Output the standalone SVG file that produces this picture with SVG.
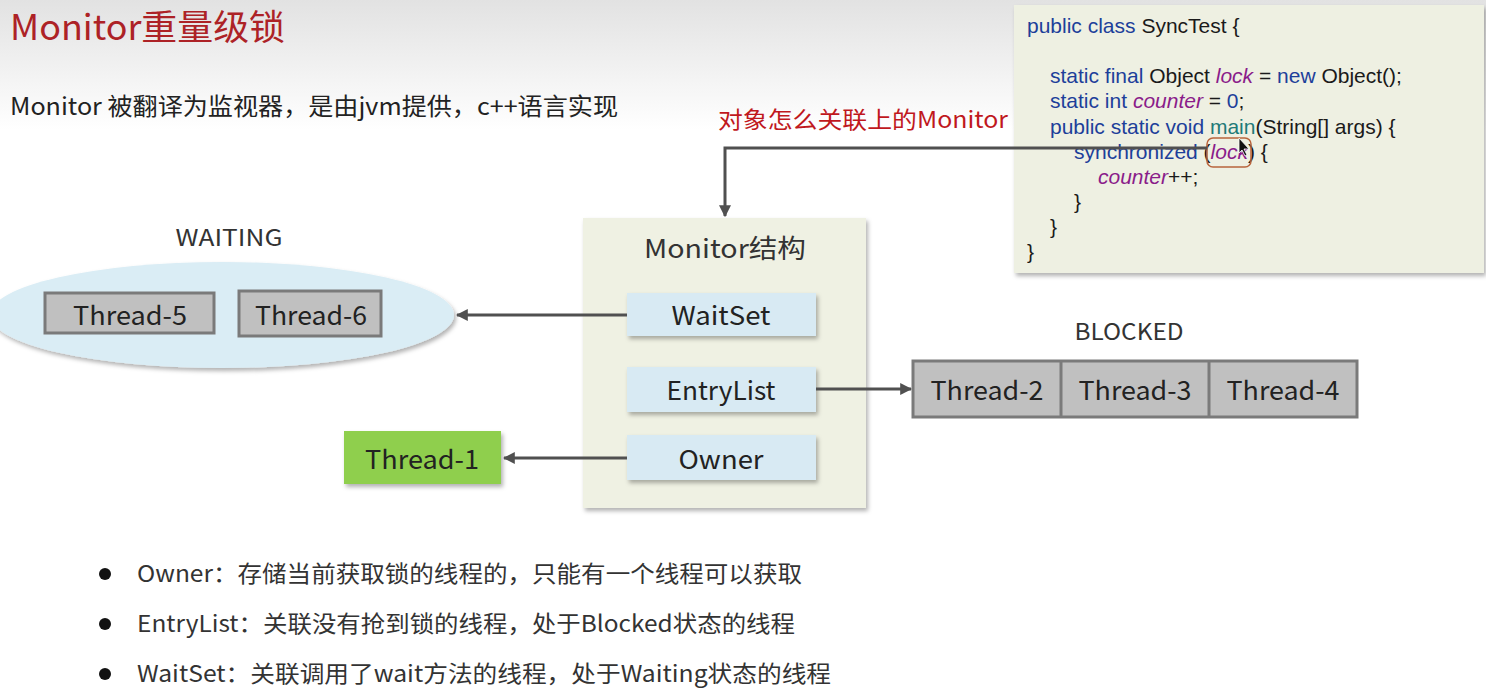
<svg xmlns="http://www.w3.org/2000/svg" width="1486" height="692" viewBox="0 0 1486 692">
<defs>
<linearGradient id="bg" x1="0" y1="0" x2="0" y2="1">
<stop offset="0" stop-color="#e2e2e2"/>
<stop offset="1" stop-color="#ffffff"/>
</linearGradient>
<filter id="sh" x="-10%" y="-10%" width="130%" height="140%">
<feDropShadow dx="2" dy="3" stdDeviation="2" flood-color="#000" flood-opacity="0.3"/>
</filter>
<marker id="ah" viewBox="0 0 10 10" refX="9" refY="5" markerWidth="4" markerHeight="4" orient="auto" markerUnits="strokeWidth">
<path d="M0,0 L10,5 L0,10 z" fill="#505050"/>
</marker>
</defs>
<style>
.t{font-family:"Noto Sans CJK SC","Noto Sans",sans-serif;fill:#222}
.c{font-family:"Liberation Sans",Arial,sans-serif;font-size:21px;fill:#1a1a1a}
.k{fill:#1d3f9a}
.v{fill:#8a1c8a;font-style:italic}
.gray{fill:#c0c0c0;stroke:#7a7a7a;stroke-width:3}
.blue{fill:#d8eaf3}
.ln{stroke:#505050;stroke-width:3;fill:none}
.lbl{font-size:26px;text-anchor:middle}
</style>
<rect x="0" y="0" width="1486" height="130" fill="url(#bg)"/>
<rect x="0" y="130" width="1486" height="562" fill="#ffffff"/>

<text class="t" x="10" y="40" font-size="35" style="fill:#ad2226" textLength="275" lengthAdjust="spacingAndGlyphs">Monitor重量级锁</text>
<text class="t" x="10" y="115" font-size="24" textLength="608" lengthAdjust="spacingAndGlyphs">Monitor 被翻译为监视器，是由jvm提供，c++语言实现</text>

<g id="code">
<rect x="1014" y="5" width="470" height="268" fill="#eef0e2" filter="url(#sh)"/>
<text class="c" x="1027" y="33"><tspan class="k">public class</tspan> SyncTest {</text>
<text class="c" x="1050" y="83"><tspan class="k">static final</tspan> Object <tspan class="v">lock</tspan> = <tspan class="k">new</tspan> Object();</text>
<text class="c" x="1050" y="108"><tspan class="k">static int</tspan> <tspan class="v">counter</tspan> = <tspan class="k">0</tspan>;</text>
<text class="c" x="1050" y="134"><tspan class="k">public static void</tspan> <tspan style="fill:#1e7a78">main</tspan>(String[] args) {</text>
<text class="c" x="1074" y="159"><tspan class="k">synchronized</tspan> (<tspan class="v">lock</tspan>) {</text>
<text class="c" x="1098" y="184"><tspan class="v">counter</tspan>++;</text>
<text class="c" x="1074" y="209">}</text>
<text class="c" x="1050" y="234">}</text>
<text class="c" x="1027" y="259">}</text>
<rect x="1207" y="138" width="44" height="29" rx="6" fill="none" stroke="#b8643c" stroke-width="1.5"/>
<path d="M1239,138 L1239,153 L1242,150 L1245,156 L1247,155 L1244,149 L1249,149 z" fill="#111" stroke="#fff" stroke-width="0.8"/>
</g>

<text class="t" x="718" y="128" font-size="23" style="fill:#c0181d" textLength="290" lengthAdjust="spacingAndGlyphs">对象怎么关联上的Monitor</text>

<g id="monitor">
<rect x="583" y="218" width="283" height="290" fill="#eff1e3" filter="url(#sh)"/>
<text class="t" x="725" y="258" font-size="26" text-anchor="middle" style="fill:#333" textLength="162" lengthAdjust="spacingAndGlyphs">Monitor结构</text>
</g>
<g id="waitset">
<rect class="blue" x="627" y="293" width="189" height="43" filter="url(#sh)"/>
<text class="t lbl" x="721" y="325" textLength="99" lengthAdjust="spacingAndGlyphs">WaitSet</text>
</g>
<g id="entrylist">
<rect class="blue" x="627" y="367" width="189" height="45" filter="url(#sh)"/>
<text class="t lbl" x="721" y="400" textLength="109" lengthAdjust="spacingAndGlyphs">EntryList</text>
</g>
<g id="owner">
<rect class="blue" x="627" y="435" width="189" height="45" filter="url(#sh)"/>
<text class="t lbl" x="721" y="469" textLength="85" lengthAdjust="spacingAndGlyphs">Owner</text>
</g>

<g id="waiting">
<text class="t" x="229" y="246" font-size="23" text-anchor="middle" style="fill:#333" textLength="107" lengthAdjust="spacingAndGlyphs">WAITING</text>
<ellipse cx="222" cy="315" rx="232" ry="53" fill="#daedf5" filter="url(#sh)"/>
<rect class="gray" x="45" y="293" width="169" height="40"/>
<text class="t lbl" x="130" y="325" textLength="114" lengthAdjust="spacingAndGlyphs">Thread-5</text>
<rect class="gray" x="239" y="291" width="142" height="45"/>
<text class="t lbl" x="311" y="325" textLength="112" lengthAdjust="spacingAndGlyphs">Thread-6</text>
</g>

<g id="thread1">
<rect x="344" y="431" width="157" height="53" fill="#8fcf4d" filter="url(#sh)"/>
<text class="t lbl" x="422" y="469" textLength="114" lengthAdjust="spacingAndGlyphs">Thread-1</text>
</g>

<g id="blocked">
<text class="t" x="1129" y="340" font-size="23" text-anchor="middle" style="fill:#333" textLength="109" lengthAdjust="spacingAndGlyphs">BLOCKED</text>
<rect class="gray" x="913" y="361" width="444" height="56"/>
<line x1="1061" y1="361" x2="1061" y2="417" stroke="#7a7a7a" stroke-width="3"/>
<line x1="1209" y1="361" x2="1209" y2="417" stroke="#7a7a7a" stroke-width="3"/>
<text class="t lbl" x="987" y="400" textLength="113" lengthAdjust="spacingAndGlyphs">Thread-2</text>
<text class="t lbl" x="1135" y="400" textLength="113" lengthAdjust="spacingAndGlyphs">Thread-3</text>
<text class="t lbl" x="1283" y="400" textLength="113" lengthAdjust="spacingAndGlyphs">Thread-4</text>
</g>

<g id="connectors">
<path class="ln" d="M1207,148 L725,148 L725,216" marker-end="url(#ah)"/>
<line class="ln" x1="627" y1="315" x2="457" y2="315" marker-end="url(#ah)"/>
<line class="ln" x1="816" y1="389" x2="911" y2="389" marker-end="url(#ah)"/>
<line class="ln" x1="627" y1="458" x2="504" y2="458" marker-end="url(#ah)"/>
</g>

<g id="notes">
<circle cx="105" cy="574" r="6" fill="#111"/>
<circle cx="105" cy="624" r="6" fill="#111"/>
<circle cx="105" cy="674" r="6" fill="#111"/>
<text class="t" x="137" y="582" font-size="23" style="fill:#333" textLength="665" lengthAdjust="spacingAndGlyphs">Owner：存储当前获取锁的线程的，只能有一个线程可以获取</text>
<text class="t" x="137" y="632" font-size="23" style="fill:#333" textLength="658" lengthAdjust="spacingAndGlyphs">EntryList：关联没有抢到锁的线程，处于Blocked状态的线程</text>
<text class="t" x="137" y="682" font-size="23" style="fill:#333" textLength="694" lengthAdjust="spacingAndGlyphs">WaitSet：关联调用了wait方法的线程，处于Waiting状态的线程</text>
</g>
</svg>
